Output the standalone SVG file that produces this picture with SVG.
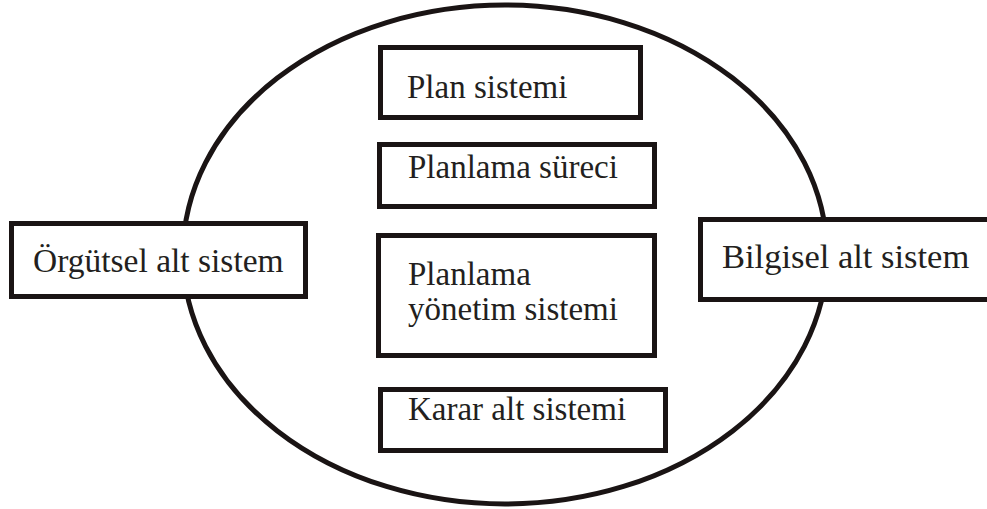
<svg xmlns="http://www.w3.org/2000/svg" width="987" height="509" viewBox="0 0 987 509">
  <style>
    .box { fill: #ffffff; stroke: #1a1414; stroke-width: 5; }
    .outline { fill: none; stroke: #1a1414; stroke-width: 5; }
    .label { font-family: "Liberation Serif", "Times New Roman", serif; font-size: 33px; fill: #231f20; }
  </style>
  <rect width="987" height="509" fill="#ffffff"/>

  <!-- enclosing system boundary -->
  <g id="connectors">
    <ellipse class="outline" cx="505" cy="254.5" rx="322" ry="249.5"/>
  </g>

  <g id="plan-sistemi">
    <rect class="box" x="380.5" y="47.5" width="260" height="70"/>
    <text class="label" x="407" y="98">Plan sistemi</text>
  </g>

  <g id="planlama-sureci">
    <rect class="box" x="379.5" y="144.5" width="275" height="62"/>
    <text class="label" x="408" y="178">Planlama süreci</text>
  </g>

  <g id="planlama-yonetim-sistemi">
    <rect class="box" x="378.5" y="235.5" width="276" height="120"/>
    <text class="label" x="408" y="285">Planlama</text>
    <text class="label" x="408" y="320">yönetim sistemi</text>
  </g>

  <g id="karar-alt-sistemi">
    <rect class="box" x="380.5" y="389.5" width="285" height="61"/>
    <text class="label" x="408" y="420">Karar alt sistemi</text>
  </g>

  <g id="orgutsel-alt-sistem">
    <rect class="box" x="11.5" y="223.5" width="294" height="73"/>
    <text class="label" x="33" y="272" style="font-size:33.5px">Örgütsel alt sistem</text>
  </g>

  <g id="bilgisel-alt-sistem">
    <rect class="box" x="700.5" y="219.5" width="300" height="80"/>
    <text class="label" x="722" y="268" style="font-size:34.5px">Bilgisel alt sistem</text>
  </g>
</svg>
